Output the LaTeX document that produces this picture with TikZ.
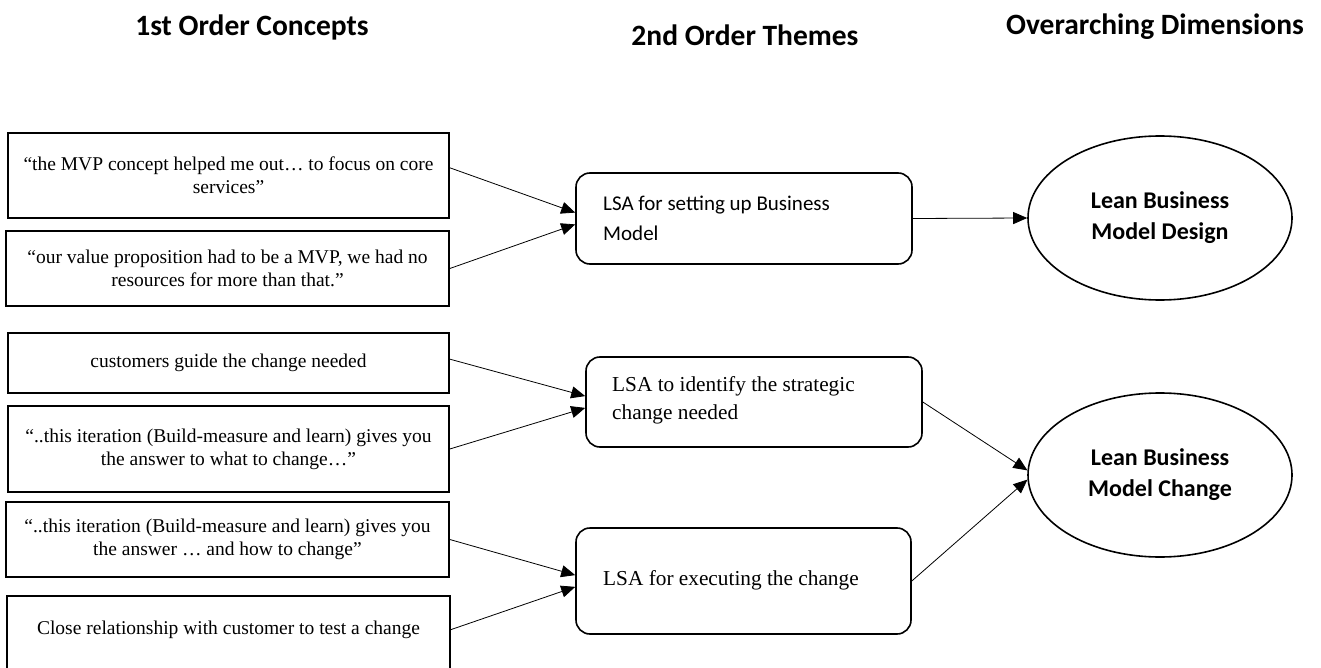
\documentclass[tikz,border=0pt]{standalone}
\usepackage{fontspec}
\setmainfont{Liberation Serif}
\newfontfamily\calibri{Carlito}
\usetikzlibrary{arrows.meta,shapes.geometric}
\begin{document}
\begin{tikzpicture}[x=1pt,y=-1pt,
  quote/.style={draw,line width=1.6pt,rectangle,inner sep=0pt,align=center,
    font=\fontsize{19.5}{23}\selectfont},
  theme/.style={draw,line width=1.6pt,rectangle,rounded corners=14pt,inner sep=0pt,
    align=left},
  themetext/.style={anchor=west,inner sep=0pt,align=left},
  dimension/.style={draw,line width=1.6pt,ellipse,inner sep=0pt,align=center,
    minimum width=264pt,minimum height=164pt,
    font=\calibri\bfseries\fontsize{24}{31}\selectfont},
  header/.style={font=\calibri\bfseries\fontsize{29.5}{34}\selectfont},
  link/.style={line width=0.8pt,-{Triangle[length=14pt,width=12pt]}}
]
\useasboundingbox (0,0) rectangle (1321,668);
\clip (0,0) rectangle (1321,668);
\fill[white] (0,0) rectangle (1321,668);

% headers
\node[header] (h1) at (252,27) {1st Order Concepts};
\node[header] (h2) at (745,35) {2nd Order Themes};
\node[header] (h3) at (1155,27) {Overarching Dimensions};

% first order concepts
\node[quote,minimum width=441pt,minimum height=85pt] (b1) at (228.5,175.5)
  {“the MVP concept helped me out… to focus on core\\services”};
\node[quote,minimum width=443pt,minimum height=75pt] (b2) at (227.5,268.5)
  {“our value proposition had to be a MVP, we had no\\resources for more than that.”};
\node[quote,minimum width=441pt,minimum height=60pt] (b3) at (228.5,363)
  {customers guide the change needed};
\node[quote,minimum width=441pt,minimum height=86pt] (b4) at (228.5,449)
  {“..this iteration (Build-measure and learn) gives you\\the answer to what to change…”};
\node[quote,minimum width=443pt,minimum height=75pt] (b5) at (227.5,539.5)
  {“..this iteration (Build-measure and learn) gives you\\the answer … and how to change”};
\node[quote,draw=none,minimum width=441pt,minimum height=66pt] (b6) at (228.5,630)
  {Close relationship with customer to test a change};
\draw[line width=1.6pt] (b6.south west) ++(0,20) -- (b6.north west) -- (b6.north east) -- ++(0,86);

% second order themes
\node[theme,minimum width=336pt,minimum height=91pt] (m1) at (744,218.5) {};
\node[themetext,font=\calibri\fontsize{21}{30}\selectfont] (m1t) at (603,218)
  {LSA for setting up Business\\Model};
\node[theme,minimum width=336pt,minimum height=90pt] (m2) at (754,402) {};
\node[themetext,font=\fontsize{21.3}{28}\selectfont] (m2t) at (612,400)
  {LSA to identify the strategic\\change needed};
\node[theme,minimum width=335pt,minimum height=106pt] (m3) at (743.5,581) {};
\node[themetext,font=\fontsize{21.3}{25}\selectfont] (m3t) at (603,580)
  {LSA for executing the change};

% dimensions
\node[dimension] (e1) at (1160,218) {Lean Business\\Model Design};
\node[dimension] (e2) at (1160,475) {Lean Business\\Model Change};

% connectors
\draw[link] (b1.2) -- (m1.178);
\draw[link] (b2.east) -- (m1.182);
\draw[link] (m1.east) -- (e1.west);
\draw[link] (b3.1) -- (m2.178);
\draw[link] (b4.east) -- (m2.182);
\draw[link] (b5.east) -- (m3.178);
\draw[link] (b6.east) -- (m3.182);
\draw[link] (m2.east) -- (e2.178);
\draw[link] (m3.east) -- (e2.182);
\end{tikzpicture}
\end{document}
